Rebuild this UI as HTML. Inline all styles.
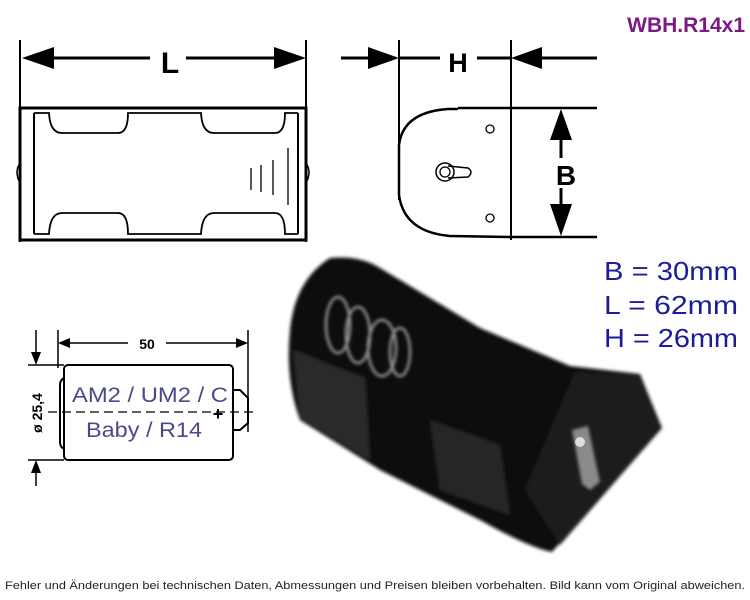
<!DOCTYPE html>
<html><head><meta charset="utf-8"><style>
html,body{margin:0;padding:0;background:#fff;}
svg{display:block;}
</style></head><body>
<svg width="750" height="600" viewBox="0 0 750 600" xmlns="http://www.w3.org/2000/svg" font-family="Liberation Sans, sans-serif">
<defs><filter id="bl"><feGaussianBlur stdDeviation="1.5"/></filter></defs>
<rect width="750" height="600" fill="#fff"/>
<text x="745" y="32" text-anchor="end" font-size="21" font-weight="bold" fill="#7a1a82">WBH.R14x1</text>

<g stroke="#000" fill="none" stroke-width="2">
<line x1="20" y1="40" x2="20" y2="242"/>
<line x1="306" y1="40" x2="306" y2="242"/>
<line x1="50" y1="58" x2="150" y2="58" stroke-width="3"/>
<line x1="186" y1="58" x2="278" y2="58" stroke-width="3"/>
<rect x="20" y="108" width="286" height="132" stroke-width="3"/>
<line x1="34" y1="113" x2="34" y2="234"/>
<line x1="298" y1="113" x2="298" y2="234"/>
<path d="M34 113 H49 Q50 133 62 133 H118 Q128 133 128 113 H201 Q202 133 214 133 H275 Q285 133 285 113 H298" stroke-width="1.8"/>
<path d="M34 234 H49 Q50 213 62 213 H118 Q128 213 128 234 H201 Q202 213 214 213 H275 Q285 213 285 234 H298" stroke-width="1.8"/>
<path d="M20 163 Q14 172 20 183" stroke-width="1.5"/>
<path d="M306 163 Q312 172 306 183" stroke-width="1.5"/>
<line x1="251" y1="168" x2="251" y2="190" stroke-width="1.3"/>
<line x1="261" y1="165" x2="261" y2="192" stroke-width="1.3"/>
<line x1="273" y1="160" x2="273" y2="195" stroke-width="1.3"/>
<line x1="288" y1="148" x2="288" y2="205" stroke-width="1.3"/>
</g>
<polygon points="22,58 54,47 54,69" fill="#000"/>
<polygon points="306,58 274,47 274,69" fill="#000"/>
<text x="170" y="73" text-anchor="middle" font-size="30" font-weight="bold">L</text>

<g stroke="#000" fill="none" stroke-width="2">
<line x1="399" y1="40" x2="399" y2="200"/>
<line x1="511" y1="40" x2="511" y2="240"/>
<line x1="341" y1="58" x2="372" y2="58" stroke-width="3"/>
<line x1="399" y1="58" x2="440" y2="58" stroke-width="3"/>
<line x1="477" y1="58" x2="511" y2="58" stroke-width="3"/>
<line x1="540" y1="58" x2="597" y2="58" stroke-width="3"/>
<line x1="458" y1="108" x2="597" y2="108" stroke-width="2.5"/>
<line x1="511" y1="237" x2="597" y2="237" stroke-width="2.5"/>
<path d="M458 109 H448 Q403 112 399 145 L399 195 Q404 232 450 236 L511 237" stroke-width="2.5"/>
<circle cx="490" cy="129" r="4" stroke-width="1.3"/>
<circle cx="490" cy="218" r="4" stroke-width="1.3"/>
<circle cx="445" cy="172" r="9" stroke-width="1.5"/>
<circle cx="445" cy="172" r="5" stroke-width="1.3"/>
<path d="M448 166 L468 168 Q474 172 468 177 L448 178" stroke-width="1.5"/>
<line x1="561" y1="138" x2="561" y2="158" stroke-width="3"/>
<line x1="561" y1="188" x2="561" y2="205" stroke-width="3"/>
</g>
<polygon points="399,58 368,47 368,69" fill="#000"/>
<polygon points="511,58 542,47 542,69" fill="#000"/>
<polygon points="561,109 550,140 572,140" fill="#000"/>
<polygon points="561,236 550,204 572,204" fill="#000"/>
<text x="458" y="72" text-anchor="middle" font-size="27" font-weight="bold">H</text>
<text x="566" y="185" text-anchor="middle" font-size="28" font-weight="bold">B</text>

<g font-size="26" fill="#1c1c96">
<text x="604" y="280" textLength="134" lengthAdjust="spacingAndGlyphs">B = 30mm</text>
<text x="604" y="314" textLength="134" lengthAdjust="spacingAndGlyphs">L = 62mm</text>
<text x="604" y="347" textLength="134" lengthAdjust="spacingAndGlyphs">H = 26mm</text>
</g>

<g stroke="#000" fill="none" stroke-width="1.5">
<line x1="58" y1="330" x2="58" y2="368"/>
<line x1="248" y1="330" x2="248" y2="432"/>
<line x1="66" y1="343" x2="128" y2="343"/>
<line x1="166" y1="343" x2="238" y2="343"/>
<line x1="36" y1="330" x2="36" y2="355"/>
<line x1="36" y1="470" x2="36" y2="486"/>
<line x1="28" y1="365" x2="64" y2="365"/>
<line x1="28" y1="460" x2="64" y2="460"/>
<rect x="64" y="365" width="169" height="95" rx="4" stroke-width="2"/>
<path d="M64 378 Q60 380 60 385 L60 442 Q60 447 64 449" stroke-width="2"/>
<path d="M233 390 H240 L248 398 V423 L240 430 H233" stroke-width="2"/>
<line x1="48" y1="412" x2="258" y2="412" stroke-dasharray="9,5" stroke-width="1.3"/>
</g>
<polygon points="58,343 70,338 70,348" fill="#000"/>
<polygon points="248,343 236,338 236,348" fill="#000"/>
<polygon points="36,365 31,352 41,352" fill="#000"/>
<polygon points="36,460 31,473 41,473" fill="#000"/>
<text x="147" y="349" text-anchor="middle" font-size="14" font-weight="bold">50</text>
<text transform="translate(42,413) rotate(-90)" text-anchor="middle" font-size="14" font-weight="bold">ø 25,4</text>
<text x="72" y="402" font-size="21" fill="#4a4a8a" textLength="156" lengthAdjust="spacingAndGlyphs">AM2 / UM2 / C</text>
<text x="86" y="437" font-size="21" fill="#4a4a8a" textLength="116" lengthAdjust="spacingAndGlyphs">Baby / R14</text>
<text x="218" y="420" text-anchor="middle" font-size="18" font-weight="bold">+</text>

<g filter="url(#bl)">
<path d="M290 330 Q295 280 330 258 Q360 255 380 268 L480 328 L570 366 L640 374 L662 428 L552 552 Q530 548 480 520 L380 470 L300 420 Q285 380 290 330 Z" fill="#0d0d0d"/>
<polygon points="293,350 365,378 370,460 300,418" fill="#2a2a2a"/>
<polygon points="430,420 500,445 510,515 440,490" fill="#262626"/>
<polygon points="575,372 640,375 662,428 560,545 525,490" fill="#1c1c1c"/>
</g>
<g fill="none" stroke="#9a9a9a" stroke-width="2.5" filter="url(#bl)">
<ellipse cx="338" cy="325" rx="12" ry="28"/>
<ellipse cx="358" cy="335" rx="12" ry="28"/>
<ellipse cx="382" cy="348" rx="14" ry="28"/>
<ellipse cx="400" cy="352" rx="10" ry="24"/>
</g>
<polygon points="572,430 588,426 600,482 590,490 582,484" fill="#8a8a8a" filter="url(#bl)"/>
<circle cx="580" cy="442" r="5" fill="#ddd"/>

<text x="5" y="589" font-size="11" fill="#222" textLength="740" lengthAdjust="spacingAndGlyphs">Fehler und Änderungen bei technischen Daten, Abmessungen und Preisen bleiben vorbehalten. Bild kann vom Original abweichen.</text>
</svg>
</body></html>
